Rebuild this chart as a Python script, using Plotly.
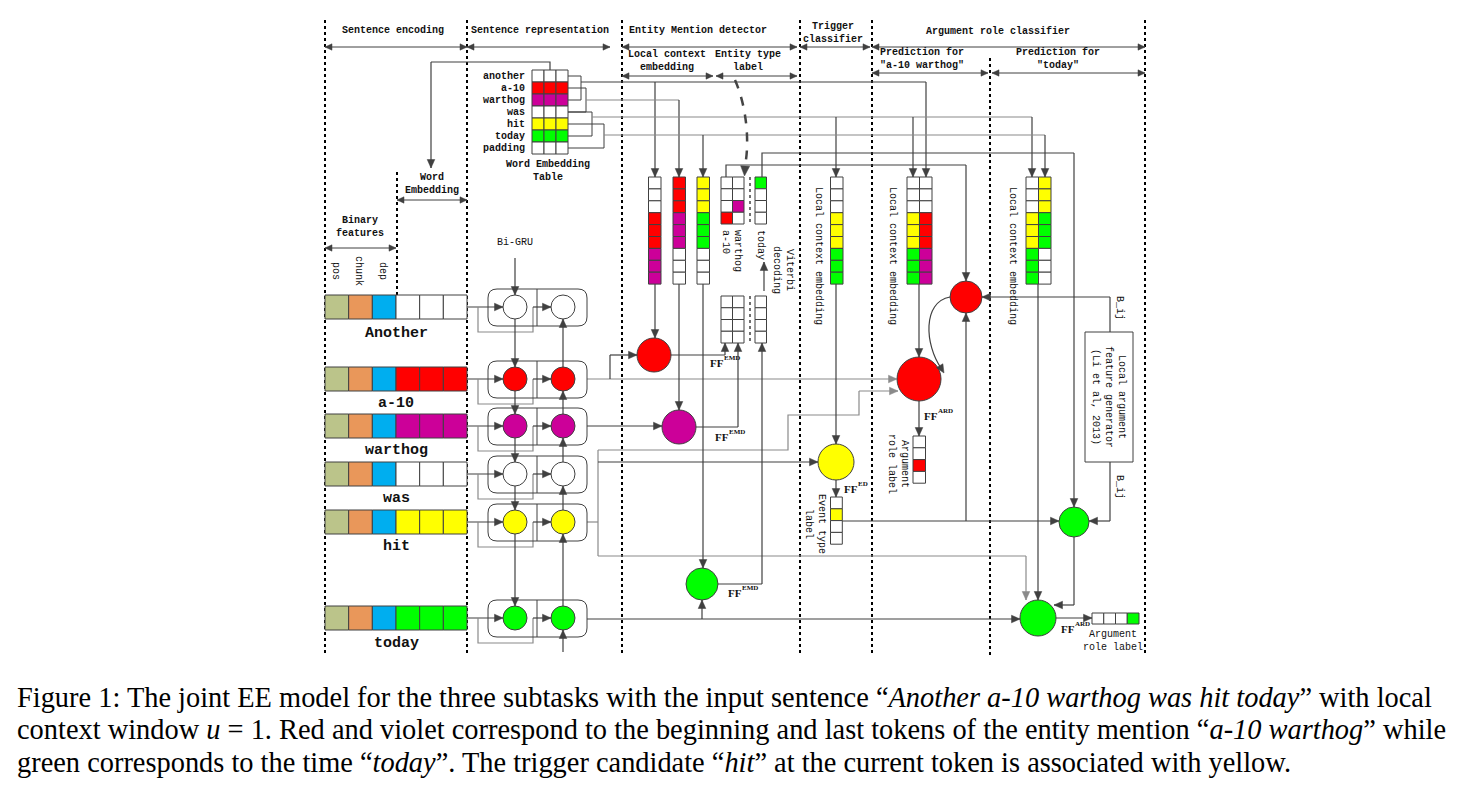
import math
import plotly.graph_objects as go

# ---------------- data ----------------
SECTION_TITLES = ["Sentence encoding", "Sentence representation", "Entity Mention detector",
                  "Trigger<br>classifier", "Argument role classifier"]
SUB_TITLES = ["Binary<br>features", "Word<br>Embedding", "Local context<br>embedding",
              "Entity type<br>label", "Prediction for<br>\"a-10 warthog\"", "Prediction for<br>\"today\""]
FEATURES = ["pos", "chunk", "dep"]
FEATURE_COLORS = ["#BBC48A", "#E9975A", "#00AEEF"]
TOKENS = ["Another", "a-10", "warthog", "was", "hit", "today"]
VOCAB = ["another", "a-10", "warthog", "was", "hit", "today", "padding"]
VOCAB_COLORS = ["#FFFFFF", "#FF0000", "#CC0099", "#FFFFFF", "#FFFF00", "#00FF00", "#FFFFFF"]
EMB_DIM = 3
EMD_WINDOWS = [["another", "a-10", "warthog"], ["a-10", "warthog", "was"], ["hit", "today", "padding"]]
ENTITY_TOKENS = ["a-10", "warthog", "today"]
ENTITY_LABEL_INDEX = [3, 2, 0]
N_LABELS = 4
TRIGGER_WINDOW = ["was", "hit", "today"]
ARG_A10_WINDOWS = [["was", "hit", "today"], ["another", "a-10", "warthog"]]
ARG_TODAY_WINDOWS = [["was", "hit", "today"], ["hit", "today", "padding"]]
EVENT_LABEL_INDEX = 1
ARG_A10_LABEL_INDEX = 2
ARG_TODAY_LABEL_INDEX = 3
CAPTION_LINES = [
    "Figure 1: The joint EE model for the three subtasks with the input sentence \u201c<i>Another a-10 warthog was hit today</i>\u201d with local",
    "context window <i>u</i> = 1. Red and violet correspond to the beginning and last tokens of the entity mention \u201c<i>a-10 warthog</i>\u201d while",
    "green corresponds to the time \u201c<i>today</i>\u201d. The trigger candidate \u201c<i>hit</i>\u201d at the current token is associated with yellow.",
]

COLOR_OF = dict(zip(VOCAB, VOCAB_COLORS))

# ---------------- drawing helpers ----------------
DARK = "#404040"
GRAY = "#8A8A8A"
MONO = "Liberation Mono, Courier New, monospace"
SERIF = "Liberation Serif, Times New Roman, serif"
line_shapes, box_shapes, head_shapes, ann = [], [], [], []


def rect(x0, y0, x1, y1, fill="#FFFFFF", color=DARK, w=1):
    box_shapes.append(dict(type="rect", x0=x0, y0=y0, x1=x1, y1=y1, fillcolor=fill,
                           line=dict(color=color, width=w)))


def circ(cx, cy, r, fill="#FFFFFF"):
    box_shapes.append(dict(type="circle", x0=cx - r, y0=cy - r, x1=cx + r, y1=cy + r,
                           fillcolor=fill, line=dict(color=DARK, width=1)))


def poly(pts, color=DARK, w=1.2, dash=None):
    d = "M" + " L".join(f"{x:.2f},{y:.2f}" for x, y in pts)
    line_shapes.append(dict(type="path", path=d, line=dict(color=color, width=w, dash=dash)))


def vline(x, y0, y1, color="black", w=2, dash="dot"):
    line_shapes.append(dict(type="line", x0=x, x1=x, y0=y0, y1=y1,
                            line=dict(color=color, width=w, dash=dash)))


def head(x0, y0, x1, y1, color=DARK, L=8.5, hw=3.8):
    dx, dy = x1 - x0, y1 - y0
    n = math.hypot(dx, dy) or 1.0
    ux, uy = dx / n, dy / n
    bx, by = x1 - ux * L, y1 - uy * L
    px, py = -uy * hw, ux * hw
    d = (f"M{x1:.2f},{y1:.2f} L{bx + px:.2f},{by + py:.2f} "
         f"L{bx - px:.2f},{by - py:.2f} Z")
    head_shapes.append(dict(type="path", path=d, fillcolor=color,
                            line=dict(color=color, width=0.5)))


def arrow(x0, y0, x1, y1, color=DARK, w=1.2, both=False, L=8.5, hw=3.8):
    poly([(x0, y0), (x1, y1)], color, w)
    head(x0, y0, x1, y1, color, L, hw)
    if both:
        head(x1, y1, x0, y0, color, L, hw)


def txt(x, y, s, size=10, angle=0, xa="center", ya="middle", bold=False, family=MONO,
        color="#111111"):
    if bold:
        s = f"<b>{s}</b>"
    ann.append(dict(x=x, y=y, xref="x", yref="y", text=s, showarrow=False, textangle=angle,
                    xanchor=xa, yanchor=ya, font=dict(family=family, size=size, color=color)))


def ff_label(x, y, sup):
    txt(x, y, "FF", size=11, xa="left", bold=True, family=SERIF)
    txt(x + 14, y - 5, sup, size=7, xa="left", bold=True, family=SERIF)


def rrect(x0, y0, x1, y1, r, color=DARK, w=1):
    p = (f"M{x0 + r},{y0} L{x1 - r},{y0} Q{x1},{y0} {x1},{y0 + r} L{x1},{y1 - r} "
         f"Q{x1},{y1} {x1 - r},{y1} L{x0 + r},{y1} Q{x0},{y1} {x0},{y1 - r} "
         f"L{x0},{y0 + r} Q{x0},{y0} {x0 + r},{y0} Z")
    box_shapes.append(dict(type="path", path=p, line=dict(color=color, width=w),
                           fillcolor="rgba(0,0,0,0)"))


def window_column(x0, y0, window, cw=12.5, ch=11.9):
    colors = [COLOR_OF[wd] for wd in window for _ in range(EMB_DIM)]
    for k, c in enumerate(colors):
        rect(x0, y0 + k * ch, x0 + cw, y0 + (k + 1) * ch, fill=c)


def label_column(x0, y0, hit, color, cw=11.8, ch=11.8, horizontal=False):
    for k in range(N_LABELS):
        fill = color if k == hit else "#FFFFFF"
        if horizontal:
            rect(x0 + k * cw, y0, x0 + (k + 1) * cw, y0 + ch, fill=fill)
        else:
            rect(x0, y0 + k * ch, x0 + cw, y0 + (k + 1) * ch, fill=fill)


# ---------------- layout geometry ----------------
ROW_Y = [307, 379, 426, 474, 522, 618]
LABEL_DY = [26, 24, 24, 24, 24, 25]

# section dividers
for x in [325, 467, 622, 800, 872, 1145]:
    vline(x, 20, 655)
vline(990, 58, 655)
vline(397, 172, 295)

# section titles and arrows
title_pos = [(393, 30), (540, 30), (698, 30), (833, 33), (998, 31)]
for s, (x, y) in zip(SECTION_TITLES, title_pos):
    txt(x, y, s, size=10, bold=True)
for x0, x1 in [(325, 467), (467, 610), (622, 797), (800, 870), (872, 1145)]:
    arrow(x0, 47, x1, 47, w=1, both=True, L=7, hw=3.2)
sub_pos = [(360, 227), (432, 184), (667, 61), (748, 61), (922, 59), (1058, 59)]
for s, (x, y) in zip(SUB_TITLES, sub_pos):
    txt(x, y, s, size=10, bold=True)
for x0, x1, y in [(325, 396, 248), (397, 467, 200), (622, 713, 76), (716, 797, 76),
                  (872, 988, 73), (992, 1145, 73)]:
    arrow(x0, y, x1, y, w=1, both=True, L=7, hw=3.2)

# feature names
for s, x in zip(FEATURES, [336, 359, 383]):
    txt(x, 271, s, size=10, angle=90)

# word embedding table
TX0, TCW, TY0, TCH = 532, 12, 70, 12
for i, (wd, c) in enumerate(zip(VOCAB, VOCAB_COLORS)):
    for j in range(EMB_DIM):
        rect(TX0 + j * TCW, TY0 + i * TCH, TX0 + (j + 1) * TCW, TY0 + (i + 1) * TCH, fill=c)
    txt(527, TY0 + (i + 0.5) * TCH, wd, size=10, xa="right", bold=True)
txt(548, 171, "Word Embedding<br>Table", size=10, bold=True)


def rc(i):
    return TY0 + TCH * (i + 0.5)


TXR = TX0 + EMB_DIM * TCW
for a, b, bx in [(0, 2, 581), (1, 3, 586), (3, 5, 592), (4, 6, 604)]:
    poly([(TXR, rc(a)), (bx, rc(a)), (bx, rc(b)), (TXR, rc(b))], DARK, w=1)

# lookup feed to word embedding
poly([(550, 70), (550, 62), (431, 62)])
arrow(431, 62, 431, 168)

# window lines to the context columns
poly([(581, 82), (926, 82)], DARK)
arrow(655, 82, 655, 177)
arrow(926, 82, 926, 177)
poly([(586, 100), (679, 100)], GRAY)
arrow(679, 100, 679, 177)
poly([(592, 117), (1032, 117)], GRAY)
arrow(836, 117, 836, 177)
arrow(913, 117, 913, 177)
arrow(1032, 117, 1032, 177)
poly([(604, 135), (1045, 135)], GRAY)
arrow(703, 135, 703, 177)
arrow(1045, 135, 1045, 177)

# entity type label feeds to argument role classifier
poly([(726, 177), (726, 165), (966, 165)])
arrow(966, 165, 966, 281)
poly([(762, 177), (762, 153), (1074, 153)])
arrow(1074, 153, 1074, 507)

# token rows: features + embeddings + Bi-GRU
CELL_W = (467 - 325) / 6
for i, (tok, cy) in enumerate(zip(TOKENS, ROW_Y)):
    cols = FEATURE_COLORS + [COLOR_OF[tok.lower()]] * EMB_DIM
    for j, c in enumerate(cols):
        rect(325 + j * CELL_W, cy - 12, 325 + (j + 1) * CELL_W, cy + 12, fill=c)
    txt(396, cy + LABEL_DY[i], tok, size=15, bold=True)
    fill = COLOR_OF[tok.lower()]
    rrect(488, cy - 18, 587, cy + 19, 9)
    line_shapes.append(dict(type="line", x0=537, x1=537, y0=cy - 18, y1=cy + 19,
                            line=dict(color=DARK, width=1)))
    circ(515, cy, 12, fill)
    circ(563, cy, 12, fill)
    arrow(467, cy, 503, cy)
    poly([(478, cy), (478, cy + 25), (533, cy + 25), (533, cy)], GRAY)
    arrow(533, cy, 551, cy)
for i in range(len(ROW_Y) - 1):
    arrow(515, ROW_Y[i] + 12, 515, ROW_Y[i + 1] - 12)
    arrow(563, ROW_Y[i + 1] - 12, 563, ROW_Y[i] + 12)
txt(515, 242, "Bi-GRU", size=10)
arrow(515, 258, 515, 295)
arrow(563, 652, 563, 630)

# row outputs
arrow(587, 379, 897, 379, GRAY)
poly([(610, 379), (610, 355)])
arrow(610, 355, 637, 355)
arrow(587, 426, 662, 426)
poly([(587, 522), (598, 522)], GRAY)
poly([(598, 450), (598, 556)], GRAY)
poly([(598, 450), (788, 450), (788, 415), (859, 415), (859, 391)], GRAY)
arrow(859, 391, 898, 391, GRAY)
arrow(598, 462, 818, 462)
poly([(598, 556), (1026, 556)], GRAY)
arrow(1026, 556, 1026, 600, GRAY)
arrow(587, 619, 1020, 619)
arrow(702, 619, 702, 600)

# entity mention detector
for x0, win in zip([648.5, 673, 697], EMD_WINDOWS):
    window_column(x0, 177, win)
arrow(655, 284, 655, 338)
arrow(679, 284, 679, 410)
arrow(703, 284, 703, 568)
EMD_COLORS = [COLOR_OF[t] for t in ENTITY_TOKENS]
EMD_CENTERS = [(654, 355, 17), (679, 427, 17), (702, 584, 16)]
ff_pos = [(708, 363), (713, 437), (726, 593)]
for (cx, cy, r), c, (fx, fy), tx in zip(EMD_CENTERS, EMD_COLORS, ff_pos, [725, 738, 762]):
    poly([(cx + r, cy), (tx, cy)])
    arrow(tx, cy, tx, 343)
    circ(cx, cy, r, c)
    ff_label(fx, fy, "EMD")

ENT_X = [721, 732.5, 755]
for y0, filled in [(177, True), (296, False)]:
    for x0, hit, c in zip(ENT_X, ENTITY_LABEL_INDEX, EMD_COLORS):
        label_column(x0, y0, hit if filled else -1, c, cw=11.5, ch=11.75)
    line_shapes.append(dict(type="line", x0=750, x1=750, y0=y0, y1=y0 + 47,
                            line=dict(color=DARK, width=1.5, dash="dot")))
for s, x in zip(ENTITY_TOKENS, [726, 738, 761]):
    txt(x, 228, s, size=10, angle=90, ya="top")
txt(783, 270, "Viterbi<br>decoding", size=10, angle=90)
arrow(764, 291, 764, 262)
line_shapes.append(dict(type="path", path="M735,80 C746,105 750,140 745,166",
                        line=dict(color="#444444", width=2.5, dash="dash")))
head(745.5, 160, 744.5, 176, color="#444444", L=10, hw=4.5)

# trigger classifier
window_column(830.5, 177, TRIGGER_WINDOW)
txt(819, 256, "Local context embedding", size=10, angle=90)
arrow(836, 284, 836, 444)
circ(836, 462, 18, COLOR_OF["hit"])
ff_label(842, 489, "ED")
arrow(836, 480, 836, 497)
arrow(842, 521, 1059, 521)
arrow(966, 521, 966, 313)
label_column(830.5, 497, EVENT_LABEL_INDEX, COLOR_OF["hit"])
txt(815, 524, "Event type<br>label", size=10, angle=90)

# argument role classifier: a-10 warthog
for x0, win in zip([907, 919.5], ARG_A10_WINDOWS):
    window_column(x0, 177, win)
txt(893, 256, "Local context embedding", size=10, angle=90)
arrow(919, 284, 919, 357)
circ(966, 297, 16, COLOR_OF["a-10"])
line_shapes.append(dict(type="path", path="M950,297 C922,302 925,345 941,368",
                        line=dict(color=DARK, width=1.2)))
head(938, 363, 944, 373)
circ(919, 379, 22, COLOR_OF["a-10"])
ff_label(922, 416, "ARD")
arrow(919, 401, 919, 436)
label_column(913, 436, ARG_A10_LABEL_INDEX, COLOR_OF["a-10"], cw=12.5)
txt(898, 464, "Argument<br>role label", size=10, angle=90)

# argument role classifier: today
for x0, win in zip([1026, 1038.5], ARG_TODAY_WINDOWS):
    window_column(x0, 177, win)
txt(1013, 256, "Local context embedding", size=10, angle=90)
arrow(1038, 284, 1038, 600)
rect(1085, 332, 1133, 462)
txt(1109, 397, "Local argument<br>feature generator<br>(Li et al, 2013)", size=10, angle=90)
poly([(1110, 332), (1110, 297)])
arrow(1110, 297, 982, 297)
poly([(1110, 462), (1110, 521)])
arrow(1110, 521, 1089, 521)
txt(1120, 308, "B_ij", size=10, angle=90)
txt(1120, 487, "B_ij", size=10, angle=90)
circ(1074, 522, 15, COLOR_OF["today"])
poly([(1074, 537), (1074, 605)])
arrow(1074, 605, 1054, 605)
circ(1038, 618, 18, COLOR_OF["today"])
arrow(1056, 618, 1092, 618)
ff_label(1059, 629, "ARD")
label_column(1092, 613, ARG_TODAY_LABEL_INDEX, COLOR_OF["today"], cw=11.75, ch=11,
             horizontal=True)
txt(1113, 641, "Argument<br>role label", size=10)

# caption
for k, s in enumerate(CAPTION_LINES):
    txt(15, 697 + 32.5 * k, s, size=28.4, xa="left", family=SERIF, color="#000000")

fig = go.Figure()
fig.update_layout(
    width=1476, height=792, margin=dict(l=0, r=0, t=0, b=0),
    paper_bgcolor="white", plot_bgcolor="white",
    xaxis=dict(range=[0, 1476], visible=False, fixedrange=True),
    yaxis=dict(range=[792, 0], visible=False, fixedrange=True),
    shapes=line_shapes + box_shapes + head_shapes, annotations=ann, showlegend=False,
)
fig.write_html("out.html", post_script="document.body.style.margin='0';",
               config={"displayModeBar": False})
